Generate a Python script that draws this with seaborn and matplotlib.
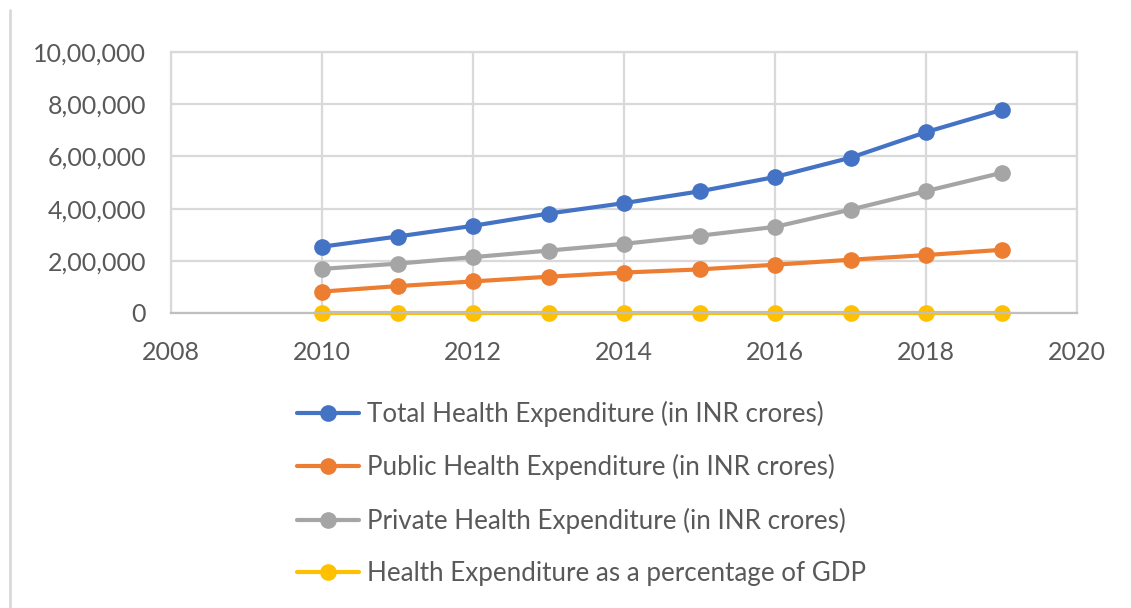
import matplotlib

matplotlib.use("Agg")
import matplotlib.pyplot as plt
import pandas as pd
import seaborn as sns
from matplotlib.lines import Line2D
from matplotlib.ticker import FuncFormatter

years = [2010, 2011, 2012, 2013, 2014, 2015, 2016, 2017, 2018, 2019]
total_exp = [254000, 293000, 334000, 381000, 421000, 466000, 521000, 595000, 693000, 778000]
public_exp = [82000, 103000, 121000, 139000, 155000, 167000, 185000, 204000, 222000, 242000]
private_exp = [169000, 189000, 214000, 239000, 265000, 296000, 330000, 396000, 467000, 537000]
gdp_share = [3.3, 3.4, 3.3, 3.3, 3.4, 3.4, 3.5, 3.6, 3.7, 3.8]

series_names = [
    "Total Health Expenditure (in INR crores)",
    "Public Health Expenditure (in INR crores)",
    "Private Health Expenditure (in INR crores)",
    "Health Expenditure as a percentage of GDP",
]
series_colors = ["#4472C4", "#ED7D31", "#A5A5A5", "#FFC000"]
x_ticks = [2008, 2010, 2012, 2014, 2016, 2018, 2020]
y_ticks = [0, 200000, 400000, 600000, 800000, 1000000]


def indian_format(value, _pos=None):
    """Format numbers with Indian digit grouping (10,00,000)."""
    n = int(round(value))
    s = str(n)
    if len(s) <= 3:
        return s
    head, tail = s[:-3], s[-3:]
    groups = []
    while len(head) > 2:
        groups.insert(0, head[-2:])
        head = head[:-2]
    if head:
        groups.insert(0, head)
    return ",".join(groups) + "," + tail


df = pd.DataFrame(
    {
        "year": years * 4,
        "value": total_exp + public_exp + private_exp + gdp_share,
        "series": [name for name in series_names for _ in years],
    }
)

sns.set_theme(style="white")
plt.rcParams["font.family"] = ["Lato", "DejaVu Sans"]
text_color = "#595959"
grid_color = "#d9d9d9"

fig = plt.figure(figsize=(11.31, 6.08), dpi=100)
ax = fig.add_axes([0.1512, 0.4852, 0.8011, 0.4293])

sns.lineplot(
    data=df,
    x="year",
    y="value",
    hue="series",
    hue_order=series_names,
    palette=series_colors,
    style="series",
    markers=["o", "o", "o", "o"],
    dashes=False,
    linewidth=3,
    markersize=12,
    markeredgewidth=0,
    ax=ax,
)
for line in ax.lines:
    line.set_clip_on(False)

ax.set_xlim(2008, 2020)
ax.set_ylim(0, 1000000)
ax.set_xticks(x_ticks)
ax.set_yticks(y_ticks)
ax.yaxis.set_major_formatter(FuncFormatter(indian_format))
ax.grid(True, color=grid_color, linewidth=1.6)
ax.set_axisbelow(True)
for spine in ax.spines.values():
    spine.set_color(grid_color)
    spine.set_linewidth(1.6)
ax.spines["bottom"].set_color("#bfbfbf")
ax.tick_params(axis="both", length=0, labelsize=18, colors=text_color)
ax.tick_params(axis="x", pad=20)
ax.tick_params(axis="y", pad=18)
ax.set_xlabel("")
ax.set_ylabel("")

handles, labels = ax.get_legend_handles_labels()
ax.legend_.remove()
fig.legend(
    handles,
    labels,
    loc="upper left",
    bbox_to_anchor=(297 / 1131, 1 - 401 / 608),
    frameon=False,
    fontsize=18.7,
    labelcolor=text_color,
    handlelength=2.4,
    handletextpad=0.3,
    labelspacing=1.05,
    borderpad=0,
    borderaxespad=0,
)

fig.add_artist(Line2D([10 / 1131, 10 / 1131], [0, 1 - 10 / 608], color=grid_color, linewidth=2))

fig.savefig("out.png", dpi=100)
plt.close(fig)
